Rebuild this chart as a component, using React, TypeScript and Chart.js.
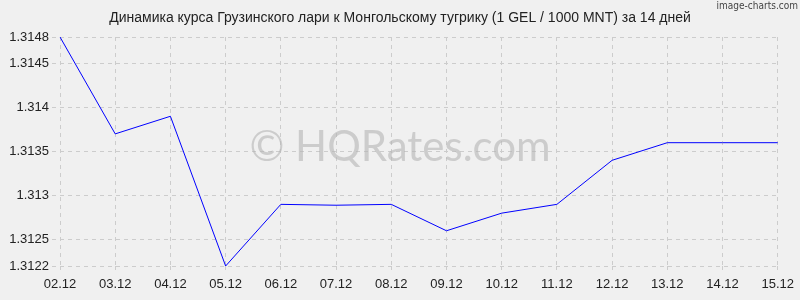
import React, { useEffect, useRef } from "react";
import { Chart, registerables } from "chart.js";

Chart.register(...registerables);

const titleText = "Динамика курса Грузинского лари к Монгольскому тугрику (1 GEL / 1000 MNT) за 14 дней";
const categories = ["02.12", "03.12", "04.12", "05.12", "06.12", "07.12", "08.12", "09.12", "10.12", "11.12", "12.12", "13.12", "14.12", "15.12"];
const rates = [1.3148, 1.3137, 1.3139, 1.3122, 1.3129, 1.31289, 1.3129, 1.3126, 1.3128, 1.3129, 1.3134, 1.3136, 1.3136, 1.3136];
const yTicks = [1.3122, 1.3125, 1.313, 1.3135, 1.314, 1.3145, 1.3148];
const watermark = "© HQRates.com";
const credit = "image-charts.com";

export default function App() {
  const ref = useRef<HTMLCanvasElement | null>(null);
  useEffect(() => {
    document.body.style.margin = "0";
    const decor = {
      id: "decor",
      beforeDraw(chart: any) {
        const { ctx, width } = chart;
        ctx.save();
        ctx.fillStyle = "#f0f0f0";
        ctx.fillRect(0, 0, width, chart.height);
        ctx.restore();
      },
      beforeDatasetsDraw(chart: any) {
        const { ctx } = chart;
        ctx.save();
        ctx.fillStyle = "rgba(180,180,180,0.6)";
        ctx.font = "42px Lato";
        ctx.textAlign = "center";
        ctx.textBaseline = "middle";
        ctx.fillText(watermark, 400, 147);
        ctx.restore();
      },
      afterDraw(chart: any) {
        const { ctx } = chart;
        ctx.save();
        ctx.fillStyle = "#222";
        ctx.font = "14px 'Liberation Sans', Arial, sans-serif";
        ctx.textAlign = "center";
        ctx.textBaseline = "middle";
        ctx.fillText(titleText, 400, 18);
        ctx.fillStyle = "#444";
        ctx.font = "10px 'DejaVu Sans Condensed', 'Liberation Sans Narrow', sans-serif";
        ctx.textAlign = "right";
        ctx.fillText(credit, 798, 6);
        ctx.restore();
      },
    };
    const chart = new Chart(ref.current!, {
      type: "line",
      data: {
        labels: categories,
        datasets: [
          {
            data: rates,
            borderColor: "#0000ff",
            borderWidth: 1,
            pointRadius: 0,
            tension: 0,
            fill: false,
          },
        ],
      },
      options: {
        animation: false,
        responsive: false,
        layout: { padding: { top: 37, right: 21, left: 0, bottom: 0 } },
        plugins: { legend: { display: false }, title: { display: false }, tooltip: { enabled: false } },
        scales: {
          x: {
            offset: false,
            border: { display: false, dash: [4, 4] },
            grid: { color: "#cccccc", tickLength: 5, tickBorderDash: [4, 4] } as any,
            ticks: { color: "#222", font: { size: 13, family: "'Liberation Sans', Arial, sans-serif" }, padding: 6, maxRotation: 0, autoSkip: false },
            afterFit(scale: any) {
              scale.height = 34;
            },
          },
          y: {
            min: 1.3122,
            max: 1.3148,
            border: { display: false, dash: [4, 4] },
            grid: { color: "#cccccc", tickLength: 8, tickBorderDash: [4, 4] } as any,
            ticks: { color: "#222", font: { size: 13, family: "'Liberation Sans', Arial, sans-serif" }, padding: 3, callback: (v: any) => String(+Number(v).toFixed(4)) },
            afterBuildTicks(scale: any) {
              scale.ticks = yTicks.map((v) => ({ value: v }));
            },
            afterFit(scale: any) {
              scale.width = 60;
            },
          } as any,
        },
      } as any,
      plugins: [decor],
    });
    return () => chart.destroy();
  }, []);
  return <canvas ref={ref} width={800} height={300} style={{ display: "block" }} />;
}
